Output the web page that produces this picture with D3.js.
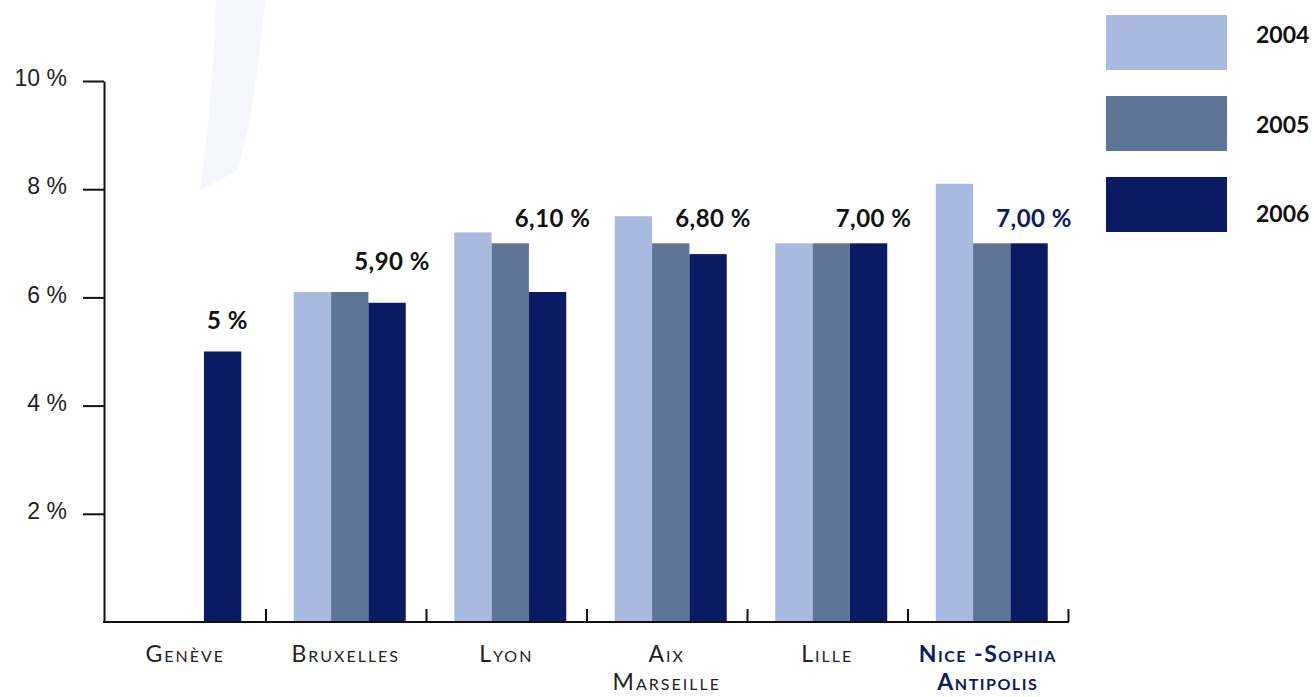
<!DOCTYPE html>
<html>
<head>
<meta charset="utf-8">
<script src="https://cdn.jsdelivr.net/npm/d3@7"></script>
<style>
  body { margin: 0; background: #fff; }
  svg { display: block; font-family: Lato, "Open Sans", sans-serif; }
  .axis path, .axis line { stroke: #111; stroke-width: 2; }
  .axis--y text { font-size: 23px; font-weight: 300; fill: #222; }
  .city { font-size: 23px; font-variant: small-caps; letter-spacing: 2px; fill: #222; }
  .city.home { font-weight: bold; fill: #0a1a63; letter-spacing: 1.5px; }
  .val { font-size: 24px; font-weight: bold; fill: #111; letter-spacing: 0.5px; }
  .val.home { fill: #0a1a63; }
  .legend text { font-size: 23px; font-weight: bold; fill: #111; }
</style>
</head>
<body>
<svg id="chart" width="1314" height="697"></svg>
<script>
var cities = ["Genève", "Bruxelles", "Lyon", "Aix\nMarseille", "Lille", "Nice -Sophia\nAntipolis"]
    , years = ["2004", "2005", "2006"]
    , v2004 = [null, 6.1, 7.2, 7.5, 7.0, 8.1]
    , v2005 = [null, 6.1, 7.0, 7.0, 7.0, 7.0]
    , v2006 = [5.0, 5.9, 6.1, 6.8, 7.0, 7.0]
    , valueLabels = ["5 %", "5,90 %", "6,10 %", "6,80 %", "7,00 %", "7,00 %"]
    , yTicks = [2, 4, 6, 8, 10]
    , colors = ["#a9bae0", "#5d7697", "#0a1b63"]
    , home = "Nice -Sophia\nAntipolis"
    ;

var series = [v2004, v2005, v2006];
var data = cities.map(function(c, i) {
    return {
        city: c,
        values: years.map(function(yr, j) { return {year: yr, v: series[j][i]}; }),
        label: valueLabels[i],
        max: d3.max(series, function(s) { return s[i]; })
    };
});

var svg = d3.select("#chart");

// faint background swoosh
svg.append("path")
    .attr("d", "M216,0 L265,0 C258,70 252,120 238,170 L200,191 C208,130 214,70 216,0 Z")
    .attr("fill", "#f5f6fc");

var y = d3.scaleLinear().domain([0, 10]).range([622, 81]);

var x0 = d3.scaleBand()
    .domain(cities)
    .range([105, 1068]);

var x1 = d3.scaleBand()
    .domain(years)
    .range([0, x0.bandwidth()])
    .paddingOuter(0.65);

var color = d3.scaleOrdinal().domain(years).range(colors);

var shift = 4; // groups sit slightly right of band centres

// bars
var groups = svg.append("g")
    .selectAll("g")
    .data(data)
    .enter().append("g")
    .attr("transform", function(d, i) { return "translate(" + (x0(d.city) + (i ? shift : 0)) + ",0)"; });

groups.selectAll("rect")
    .data(function(d) { return d.values.filter(function(e) { return e.v != null; }); })
    .enter().append("rect")
    .attr("x", function(d) { return x1(d.year); })
    .attr("width", x1.bandwidth())
    .attr("y", function(d) { return y(d.v); })
    .attr("height", function(d) { return y(0) - y(d.v); })
    .attr("fill", function(d) { return color(d.year); });

// value labels (2006)
groups.append("text")
    .attr("class", function(d) { return "val" + (d.city === home ? " home" : ""); })
    .attr("text-anchor", "middle")
    .attr("x", x1("2006") + x1.bandwidth() / 2 + 5)
    .attr("y", function(d) { return y(Math.min(d.max + 0.41, 7.3)); })
    .text(function(d) { return d.label; });

// y axis
svg.append("g")
    .attr("class", "axis axis--y")
    .attr("transform", "translate(104,0)")
    .call(d3.axisLeft(y)
        .tickValues(yTicks)
        .tickSize(21)
        .tickSizeOuter(0)
        .tickPadding(16)
        .tickFormat(function(d) { return d + " %"; }))
    .call(function(g) { g.selectAll("text").attr("dy", "0.2em"); });

// x axis: baseline with inner ticks at band boundaries
var xb = d3.scaleLinear().domain([0, cities.length]).range(x0.range());
svg.append("g")
    .attr("class", "axis axis--x")
    .attr("transform", "translate(0," + y(0) + ")")
    .call(d3.axisBottom(xb)
        .tickValues(d3.range(1, cities.length + 1))
        .tickSize(-13)
        .tickSizeOuter(0)
        .tickFormat(""));
svg.select(".axis--x .domain").attr("d", "M103,0H" + (x0.range()[1] + 1));

// city labels
svg.append("g")
    .selectAll("text")
    .data(cities)
    .enter().append("text")
    .attr("class", function(d) { return "city" + (d === home ? " home" : ""); })
    .attr("text-anchor", "middle")
    .attr("x", function(d) { return x0(d) + x0.bandwidth() / 2; })
    .attr("y", 662)
    .each(function(d) {
        var t = d3.select(this);
        d.split("\n").forEach(function(line, i) {
            t.append("tspan")
                .attr("x", x0(d) + x0.bandwidth() / 2)
                .attr("dy", i ? 28 : 0)
                .text(line);
        });
    });

// legend
var legend = svg.append("g")
    .attr("class", "legend")
    .selectAll("g")
    .data(years)
    .enter().append("g");

legend.append("rect")
    .attr("x", 1106)
    .attr("y", function(d, i) { return 15 + i * 81; })
    .attr("width", 121)
    .attr("height", 55)
    .attr("fill", function(d) { return color(d); });

legend.append("text")
    .attr("x", 1256)
    .attr("y", function(d, i) { return 43 + i * 89.5; })
    .text(function(d) { return d; });
</script>
</body>
</html>
